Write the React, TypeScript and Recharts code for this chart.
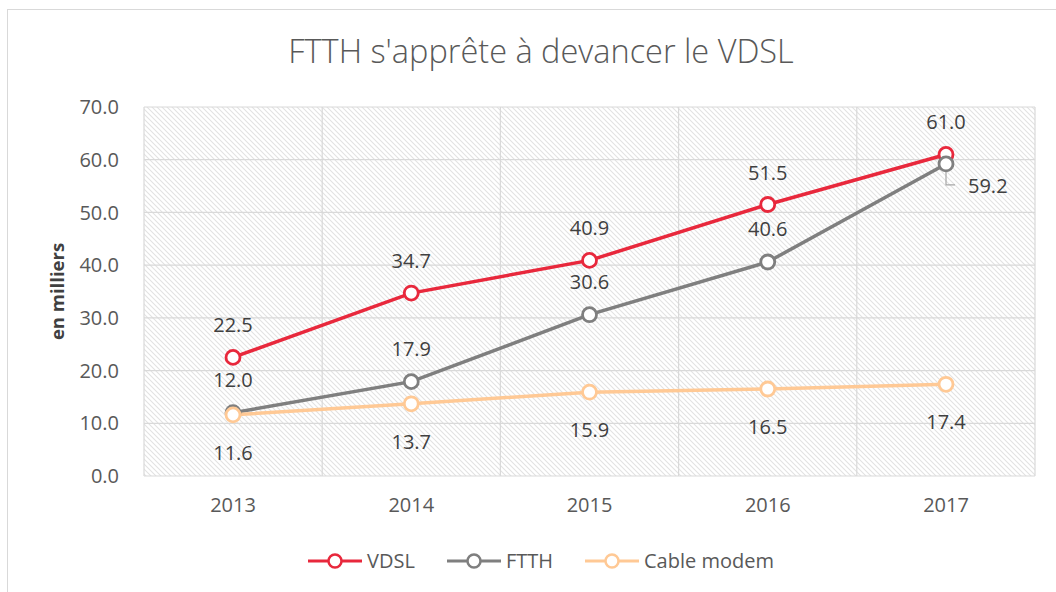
import React from 'react';
import { LineChart, Line, XAxis, YAxis, CartesianGrid, Legend, LabelList } from 'recharts';

const years = ['2013', '2014', '2015', '2016', '2017'];
const vdsl = [22.5, 34.7, 40.9, 51.5, 61.0];
const ftth = [12.0, 17.9, 30.6, 40.6, 59.2];
const cable = [11.6, 13.7, 15.9, 16.5, 17.4];
const yTicks = [0, 10, 20, 30, 40, 50, 60, 70];

const seriesNames = ['VDSL', 'FTTH', 'Cable modem'];
const colors = ['#E8283C', '#7F7F7F', '#FFC995'];

const data = years.map((y, i) => ({ year: y, vdsl: vdsl[i], ftth: ftth[i], cable: cable[i] }));

const FONT = '"Open Sans", sans-serif';

const AboveLabel = (props: any) => {
  const { x, y, value } = props;
  return (
    <text x={x} y={y - 25} textAnchor="middle" fill="#404040" fontSize={20} fontFamily={FONT}>
      {Number(value).toFixed(1)}
    </text>
  );
};

const BelowLabel = (props: any) => {
  const { x, y, value } = props;
  return (
    <text x={x} y={y + 45} textAnchor="middle" fill="#404040" fontSize={20} fontFamily={FONT}>
      {Number(value).toFixed(1)}
    </text>
  );
};

const FtthLabel = (props: any) => {
  const { x, y, value, index } = props;
  if (index === 4) {
    return (
      <g>
        <polyline points={`${x},${y + 8} ${x},${y + 21} ${x + 9},${y + 21}`} fill="none" stroke="#A6A6A6" strokeWidth={1.2} />
        <text x={x + 22} y={y + 29} textAnchor="start" fill="#404040" fontSize={20} fontFamily={FONT}>
          {Number(value).toFixed(1)}
        </text>
      </g>
    );
  }
  return (
    <text x={x} y={y - 26} textAnchor="middle" fill="#404040" fontSize={20} fontFamily={FONT}>
      {Number(value).toFixed(1)}
    </text>
  );
};

const LegendContent = () => (
  <div style={{ display: 'flex', justifyContent: 'center', alignItems: 'center', fontFamily: FONT, fontSize: 20, color: '#595959' }}>
    {seriesNames.map((n, i) => (
      <div key={n} style={{ display: 'flex', alignItems: 'center', marginRight: i < 2 ? 32 : 0 }}>
        <svg width={54} height={20} style={{ marginRight: 5 }}>
          <line x1={0} y1={10} x2={54} y2={10} stroke={colors[i]} strokeWidth={3} />
          <circle cx={27} cy={10} r={6.5} fill="#fff" stroke={colors[i]} strokeWidth={2.5} />
        </svg>
        <span>{n}</span>
      </div>
    ))}
  </div>
);

const dotStyle = (c: string) => ({ r: 7, fill: '#ffffff', stroke: c, strokeWidth: 2.8 });

export default function App() {
  return (
    <div style={{ position: 'absolute', left: 0, top: 0, width: 1056, height: 592, background: '#fff', overflow: 'hidden' }}>
      <div style={{ position: 'absolute', left: 7, top: 9, width: 1200, height: 800, border: '1.5px solid #D9D9D9' }} />
      <div style={{ position: 'absolute', left: 0, top: 28, width: 1082, textAlign: 'center', fontFamily: FONT, fontWeight: 300, fontSize: 32.5, color: '#595959' }}>
        FTTH s'apprête à devancer le VDSL
      </div>
      <div style={{ position: 'absolute', left: 0, top: 0 }}>
        <LineChart width={1056} height={592} data={data} margin={{ top: 107, right: 21, left: 0, bottom: 0 }}>
          <defs>
            <pattern id="hatch" patternUnits="userSpaceOnUse" width={5} height={5}>
              <path d="M-1,-1 L6,6 M-1,4 L1,6 M4,-1 L6,1" stroke="#E2E2E2" strokeWidth={1.1} />
            </pattern>
          </defs>
          <CartesianGrid
            fill="url(#hatch)"
            stroke="#D9D9D9"
            strokeWidth={1.2}
            verticalCoordinatesGenerator={({ offset }: any) =>
              [0, 1, 2, 3, 4, 5].map((i) => offset.left + (i * offset.width) / years.length)
            }
          />
          <XAxis dataKey="year" axisLine={false} tickLine={false} height={116} tickMargin={16}
            padding={{ left: 89, right: 89 }}
            tick={{ fill: '#595959', fontSize: 20, fontFamily: FONT }} />
          <YAxis width={144} domain={[0, 70]} ticks={yTicks} axisLine={false} tickLine={false}
            tickFormatter={(v: number) => v.toFixed(1)} tickMargin={19}
            tick={{ fill: '#595959', fontSize: 20, fontFamily: FONT }}
            label={{ value: 'en milliers', angle: -90, position: 'insideLeft', offset: 0, dx: 57,
              style: { fill: '#404040', fontSize: 18.5, fontWeight: 700, fontFamily: FONT, textAnchor: 'middle' } }} />
          <Legend verticalAlign="middle" layout="horizontal" align="center" content={<LegendContent />}
            wrapperStyle={{ top: 547, left: 0, width: 1082 }} />
          <Line dataKey="vdsl" name="VDSL" stroke={colors[0]} strokeWidth={3.5} dot={dotStyle(colors[0])} isAnimationActive={false}>
            <LabelList dataKey="vdsl" content={<AboveLabel />} />
          </Line>
          <Line dataKey="ftth" name="FTTH" stroke={colors[1]} strokeWidth={3.5} dot={dotStyle(colors[1])} isAnimationActive={false}>
            <LabelList dataKey="ftth" content={<FtthLabel />} />
          </Line>
          <Line dataKey="cable" name="Cable modem" stroke={colors[2]} strokeWidth={3.5} dot={dotStyle(colors[2])} isAnimationActive={false}>
            <LabelList dataKey="cable" content={<BelowLabel />} />
          </Line>
        </LineChart>
      </div>
    </div>
  );
}
